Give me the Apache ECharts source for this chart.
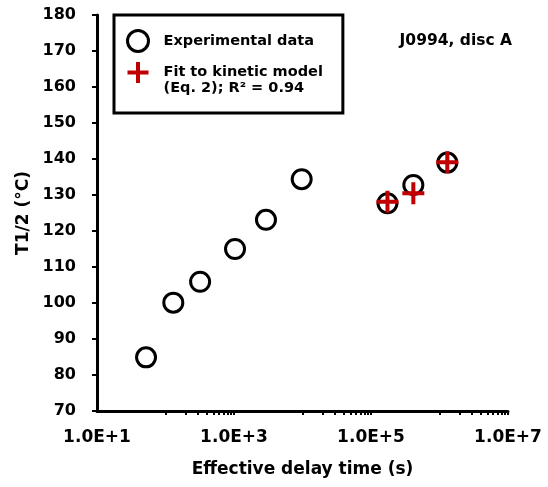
<!DOCTYPE html>
<html>
<head>
<meta charset="utf-8">
<script src="https://cdn.jsdelivr.net/npm/echarts@6/dist/echarts.min.js"></script>
<style>
html,body{margin:0;padding:0;background:#fff;}
#chart{width:548px;height:487px;}
</style>
</head>
<body>
<div id="chart"></div>
<script>
// ---- data ----
const expTime = [52, 130, 320, 1035, 2930, 9730, 174000, 415000, 1300000];
const expT = [84.9, 100.1, 105.9, 115.0, 123.1, 134.4, 127.7, 132.8, 139.0];
const fitTime = [174000, 415000, 1300000];
const fitT = [128.1, 130.5, 139.1];

const xTickValues = [100, 200, 300, 400, 500, 600, 700, 800, 900, 1000,
  10000, 20000, 30000, 40000, 50000, 60000, 70000, 80000, 90000, 100000,
  1000000, 2000000, 3000000, 4000000, 5000000, 6000000, 7000000, 8000000, 9000000, 10000000];
const xLabelValues = [10, 1000, 100000, 10000000];

const expName = 'Experimental data';
const fitName = 'Fit to kinetic model\n(Eq. 2); R\u00B2 = 0.94';
const titleText = 'J0994, disc A';
const xName = 'Effective delay time (s)';
const yName = 'T1/2 (\u00B0C)';

const FONT = 'DejaVu Sans';
const plusPath = 'path://M9,0h4v9h9v4h-9v9h-4v-9h-9v-4h9z';
const plusLegendPath = 'path://M8.5,0h4v8.5h8.5v4h-8.5v8.5h-4v-8.5h-8.5v-4h8.5z M10.45,35.9h0.1v0.1h-0.1z';

const chart = echarts.init(document.getElementById('chart'), null, {renderer: 'canvas'});
chart.setOption({
  animation: false,
  backgroundColor: '#fff',
  title: {
    text: titleText, right: 36, top: 32, padding: 0,
    textStyle: {fontFamily: FONT, fontWeight: 'bold', fontSize: 15.5, lineHeight: 18, color: '#000'}
  },
  legend: {
    orient: 'vertical', left: 114, top: 15,
    padding: [8, 20, 15, 12],
    borderColor: '#000', borderWidth: 3, backgroundColor: '#fff',
    itemWidth: 21, itemHeight: 36, itemGap: 3,
    selectedMode: false,
    textStyle: {fontFamily: FONT, fontWeight: 'bold', fontSize: 14.5, lineHeight: 16, color: '#000', padding: [0, 0, 0, 10]},
    data: [
      {name: expName, icon: 'circle', itemStyle: {color: '#fff', borderColor: '#000', borderWidth: 3, opacity: 1},
       textStyle: {lineHeight: 36}},
      {name: fitName, icon: plusLegendPath, itemStyle: {color: '#c00000', borderWidth: 0, opacity: 1}}
    ]
  },
  grid: {left: 97, right: 40, top: 15, bottom: 76},
  xAxis: {
    type: 'log', logBase: 10, min: 10, max: 10000000,
    name: xName, nameLocation: 'middle', nameGap: 50,
    nameTextStyle: {fontFamily: FONT, fontWeight: 'bold', fontSize: 17, color: '#000'},
    axisLine: {show: true, onZero: false, lineStyle: {color: '#000', width: 3}},
    axisTick: {show: true, inside: false, length: 4, lineStyle: {color: '#000', width: 2}, customValues: xTickValues},
    axisLabel: {
      customValues: xLabelValues, margin: 18,
      fontFamily: FONT, fontWeight: 'bold', fontSize: 17, color: '#000',
      formatter: function (v) { return '1.0E+' + Math.round(Math.log10(v)); }
    },
    splitLine: {show: false},
    minorTick: {show: false}
  },
  yAxis: {
    type: 'value', min: 70, max: 180, interval: 10,
    name: yName, nameLocation: 'middle', nameGap: 64, nameRotate: 90,
    nameTextStyle: {fontFamily: FONT, fontWeight: 'bold', fontSize: 17, color: '#000'},
    axisLine: {show: true, lineStyle: {color: '#000', width: 3}},
    axisTick: {show: true, inside: false, length: 5, lineStyle: {color: '#000', width: 2}},
    axisLabel: {margin: 21, fontFamily: FONT, fontWeight: 'bold', fontSize: 16, color: '#000'},
    splitLine: {show: false}
  },
  series: [
    {
      name: expName, type: 'scatter',
      data: expTime.map((t, i) => [t, expT[i]]),
      symbol: 'circle', symbolSize: 19,
      itemStyle: {color: '#fff', borderColor: '#000', borderWidth: 3, opacity: 1},
      emphasis: {disabled: true}, z: 2
    },
    {
      name: fitName, type: 'scatter',
      data: fitTime.map((t, i) => [t, fitT[i]]),
      symbol: plusPath, symbolSize: 22,
      itemStyle: {color: '#c00000', borderWidth: 0, opacity: 1},
      emphasis: {disabled: true}, z: 3
    }
  ]
});
</script>
</body>
</html>
